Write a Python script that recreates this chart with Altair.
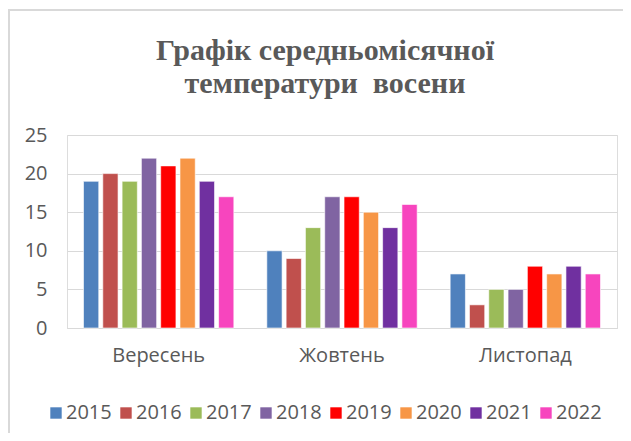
import altair as alt
import pandas as pd

months = ["Вересень", "Жовтень", "Листопад"]
years = ["2015", "2016", "2017", "2018", "2019", "2020", "2021", "2022"]
sep_vals = [19, 20, 19, 22, 21, 22, 19, 17]
oct_vals = [10, 9, 13, 17, 17, 15, 13, 16]
nov_vals = [7, 3, 5, 5, 8, 7, 8, 7]
colors = ["#4F81BD", "#C0504D", "#9BBB59", "#8064A2", "#FF0000", "#F79646", "#7030A0", "#F745BE"]

rows = []
for m, vals in zip(months, [sep_vals, oct_vals, nov_vals]):
    for y, v in zip(years, vals):
        rows.append({"month": m, "year": y, "temp": v})
df = pd.DataFrame(rows)

W, H = 550, 193
LABEL_FONT = "Open Sans"
FS = 20
GRAY = "#595959"

frame = alt.Chart(pd.DataFrame({"a": [0]})).mark_rect(
    fill="transparent", stroke="#D9D9D9", strokeWidth=2, clip=False
).encode(
    x=alt.value(-58), x2=alt.value(W + 60),
    y=alt.value(-125), y2=alt.value(H + 140),
)

bars = alt.Chart(df).mark_bar(stroke="white", strokeWidth=1, strokeOpacity=0.6).encode(
    x=alt.X("month:N", sort=months,
            scale=alt.Scale(paddingInner=0.18, paddingOuter=0.09),
            axis=alt.Axis(title=None, labelAngle=0, ticks=False, domain=True,
                          domainColor="#D9D9D9", labelPadding=17,
                          labelFontSize=FS, labelFont=LABEL_FONT, labelColor=GRAY)),
    xOffset=alt.XOffset("year:N", sort=years,
                        scale=alt.Scale(paddingInner=0.21, paddingOuter=0.0)),
    y=alt.Y("temp:Q", scale=alt.Scale(domain=[0, 25], nice=False),
            axis=alt.Axis(title=None, values=[0, 5, 10, 15, 20, 25], ticks=False,
                          domain=False, gridColor="#D9D9D9", gridWidth=1,
                          labelPadding=20, labelFontSize=FS, labelFont=LABEL_FONT,
                          labelColor=GRAY)),
    color=alt.Color("year:N", sort=years,
                    scale=alt.Scale(domain=years, range=colors),
                    legend=alt.Legend(title=None, orient="none", direction="horizontal",
                                      columns=8, legendX=-21, legendY=268,
                                      symbolType="square", symbolSize=130,
                                      symbolStrokeWidth=0, symbolOpacity=1,
                                      labelFontSize=FS, labelFont=LABEL_FONT,
                                      labelColor=GRAY, columnPadding=4,
                                      labelOffset=0)),
)

chart = alt.layer(frame, bars).properties(
    width=W, height=H,
    title=alt.Title(
        ["Графік середньомісячної", "температури\u00a0 восени"],
        font="Liberation Serif", fontSize=30, fontWeight="bold", color=GRAY,
        anchor="middle", dx=-17, lineHeight=33, offset=-90,
    ),
    padding={"left": 59, "top": 127, "right": 6, "bottom": 105},
    autosize=alt.AutoSizeParams(type="none"),
).configure_view(stroke=None).configure(background="white")

chart.save("out.html", embed_options={"renderer": "svg", "actions": False})
